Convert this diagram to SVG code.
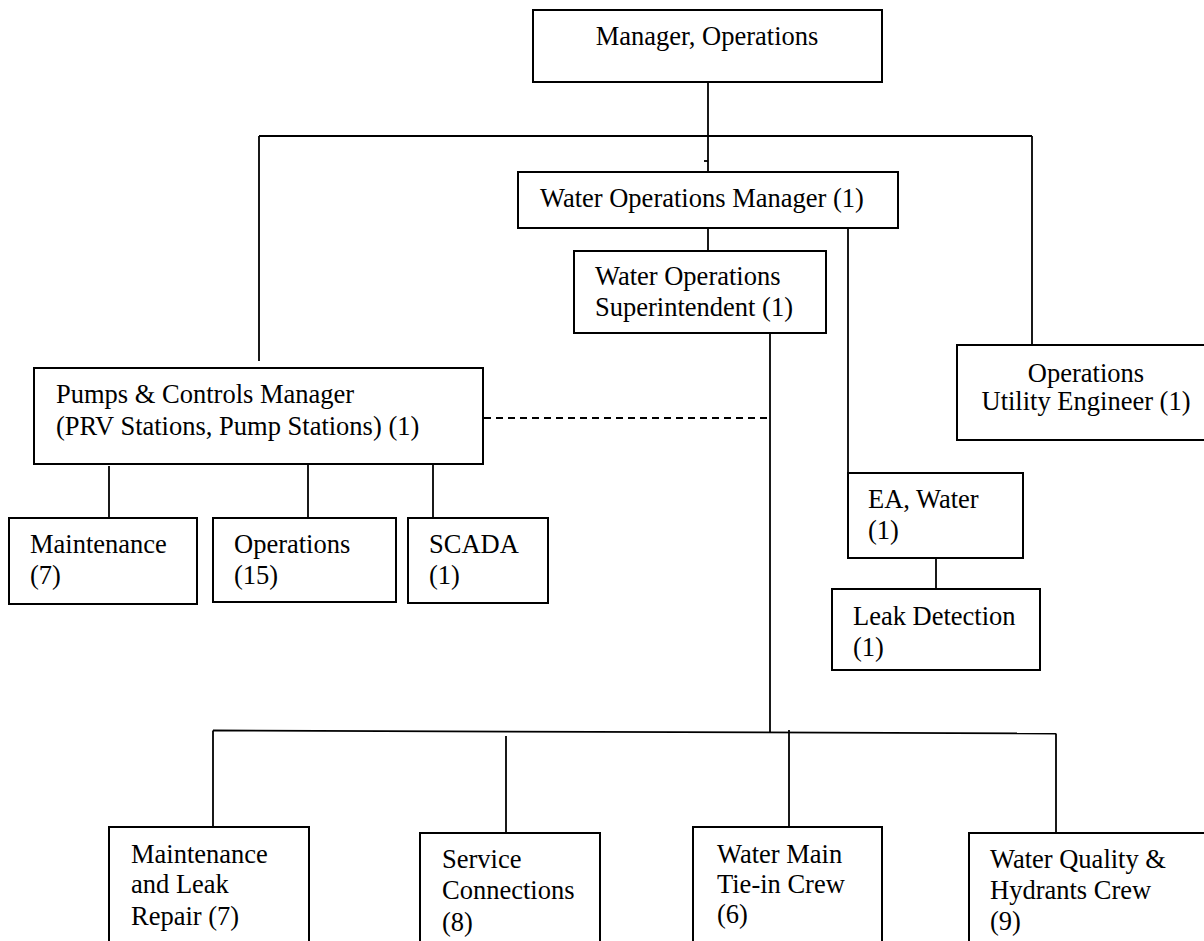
<svg xmlns="http://www.w3.org/2000/svg" width="1204" height="941" viewBox="0 0 1204 941">
<style>
  .box { fill: #ffffff; stroke: #000000; stroke-width: 2; }
  .ln { stroke: #000000; stroke-width: 1.8; fill: none; }
  .dash { stroke: #000000; stroke-width: 1.8; fill: none; stroke-dasharray: 7 5; }
  text { font-family: "Liberation Serif", "Times New Roman", serif; font-size: 26.5px; fill: #000000; }
  .c { text-anchor: middle; }
</style>
<rect x="0" y="0" width="1204" height="941" fill="#ffffff"/>
<g id="connectors">
  <line class="ln" x1="708" y1="82" x2="708" y2="172"/>
  <line class="ln" x1="704" y1="161" x2="708" y2="161"/>
  <line class="ln" x1="259" y1="136" x2="1032" y2="136"/>
  <line class="ln" x1="259" y1="136" x2="259" y2="361"/>
  <line class="ln" x1="1032" y1="136" x2="1032" y2="345"/>
  <line class="ln" x1="708" y1="228" x2="708" y2="251"/>
  <line class="ln" x1="848" y1="228" x2="848" y2="473"/>
  <line class="ln" x1="770" y1="333" x2="770" y2="732"/>
  <line class="dash" x1="484" y1="418" x2="770" y2="418"/>
  <line class="ln" x1="109" y1="466" x2="109" y2="518"/>
  <line class="ln" x1="308" y1="465" x2="308" y2="518"/>
  <line class="ln" x1="433" y1="465" x2="433" y2="518"/>
  <line class="ln" x1="936" y1="558" x2="936" y2="589"/>
  <line class="ln" x1="213" y1="730.5" x2="1056" y2="733.5"/>
  <line class="ln" x1="213" y1="730.5" x2="213" y2="827"/>
  <line class="ln" x1="506" y1="736" x2="506" y2="833"/>
  <line class="ln" x1="789" y1="730" x2="789" y2="827"/>
  <line class="ln" x1="1056" y1="733.5" x2="1056" y2="833"/>
</g>
<g id="manager-operations">
  <rect class="box" x="533" y="10" width="349" height="72"/>
  <text class="c" x="707" y="45">Manager, Operations</text>
</g>
<g id="water-operations-manager">
  <rect class="box" x="518" y="172" width="380" height="56"/>
  <text x="540" y="207">Water Operations Manager (1)</text>
</g>
<g id="water-operations-superintendent">
  <rect class="box" x="574" y="251" width="252" height="82"/>
  <text x="595" y="285">Water Operations</text>
  <text x="595" y="316">Superintendent (1)</text>
</g>
<g id="operations-utility-engineer">
  <rect class="box" x="957" y="345" width="260" height="95"/>
  <text class="c" x="1086" y="382">Operations</text>
  <text class="c" x="1086" y="410">Utility Engineer (1)</text>
</g>
<g id="pumps-controls-manager">
  <rect class="box" x="34" y="368" width="449" height="96"/>
  <text x="56" y="403">Pumps &amp; Controls Manager</text>
  <text x="56" y="435">(PRV Stations, Pump Stations) (1)</text>
</g>
<g id="maintenance">
  <rect class="box" x="9" y="518" width="188" height="86"/>
  <text x="30" y="553">Maintenance</text>
  <text x="30" y="584">(7)</text>
</g>
<g id="operations">
  <rect class="box" x="213" y="518" width="183" height="84"/>
  <text x="234" y="553">Operations</text>
  <text x="234" y="584">(15)</text>
</g>
<g id="scada">
  <rect class="box" x="408" y="518" width="140" height="85"/>
  <text x="429" y="553">SCADA</text>
  <text x="429" y="584">(1)</text>
</g>
<g id="ea-water">
  <rect class="box" x="848" y="473" width="175" height="85"/>
  <text x="868" y="508">EA, Water</text>
  <text x="868" y="539">(1)</text>
</g>
<g id="leak-detection">
  <rect class="box" x="832" y="589" width="208" height="81"/>
  <text x="853" y="625">Leak Detection</text>
  <text x="853" y="656">(1)</text>
</g>
<g id="maintenance-leak-repair">
  <rect class="box" x="109" y="827" width="200" height="130"/>
  <text x="131" y="863">Maintenance</text>
  <text x="131" y="893">and Leak</text>
  <text x="131" y="925">Repair (7)</text>
</g>
<g id="service-connections">
  <rect class="box" x="420" y="833" width="180" height="130"/>
  <text x="442" y="868">Service</text>
  <text x="442" y="899">Connections</text>
  <text x="442" y="931">(8)</text>
</g>
<g id="water-main-tie-in-crew">
  <rect class="box" x="693" y="827" width="189" height="130"/>
  <text x="717" y="863">Water Main</text>
  <text x="717" y="893">Tie-in Crew</text>
  <text x="717" y="923">(6)</text>
</g>
<g id="water-quality-hydrants-crew">
  <rect class="box" x="969" y="833" width="250" height="130"/>
  <text x="990" y="868">Water Quality &amp;</text>
  <text x="990" y="899">Hydrants Crew</text>
  <text x="990" y="930">(9)</text>
</g>
</svg>
